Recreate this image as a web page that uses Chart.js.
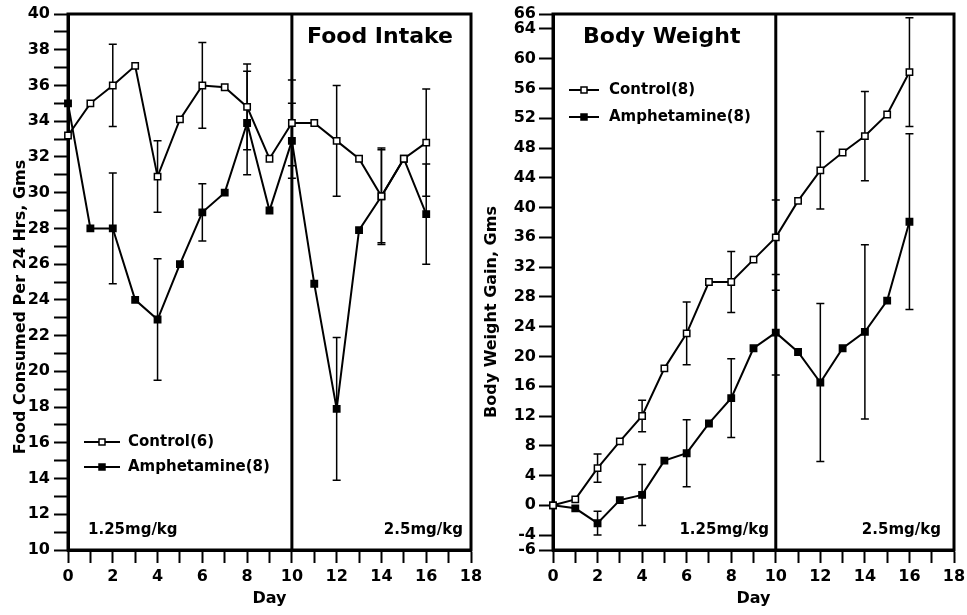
<!DOCTYPE html>
<html lang="en">
<head>
<meta charset="UTF-8">
<title>Food Intake and Body Weight</title>
<script src="https://cdn.jsdelivr.net/npm/chart.js"></script>
<style>
  body { margin: 0; background: #fff; }
  #wrap { position: relative; width: 967px; height: 615px; }
  #foodChart { position: absolute; left: 0; top: 0; }
  #weightChart { position: absolute; left: 480px; top: 0; }
</style>
</head>
<body>
<div id="wrap">
  <canvas id="foodChart" width="492" height="615"></canvas>
  <canvas id="weightChart" width="487" height="615"></canvas>
</div>
<script>
// days of the experiment, dose doubled from day 10
const days = [0, 1, 2, 3, 4, 5, 6, 7, 8, 9, 10, 11, 12, 13, 14, 15, 16];
const doseChangeDay = 10;

// food intake, g per 24 h (errors only on even days)
const foodControl    = [33.2, 35.0, 36.0, 37.1, 30.9, 34.1, 36.0, 35.9, 34.8, 31.9, 33.9, 33.9, 32.9, 31.9, 29.8, 31.9, 32.8];
const foodControlErr = [null, null, 2.3, null, 2.0, null, 2.4, null, 2.4, null, 2.4, null, 3.1, null, 2.7, null, 3.0];
const foodAmph       = [35.0, 28.0, 28.0, 24.0, 22.9, 26.0, 28.9, 30.0, 33.9, 29.0, 32.9, 24.9, 17.9, 27.9, 29.8, 31.9, 28.8];
const foodAmphErr    = [null, null, 3.1, null, 3.4, null, 1.6, null, 2.9, null, 2.1, null, 4.0, null, 2.6, null, 2.8];

// body weight gain, g
const bwControl    = [0, 0.8, 5.0, 8.6, 12.0, 18.4, 23.1, 30.0, 30.0, 33.0, 36.0, 40.9, 45.0, 47.4, 49.6, 52.5, 58.2];
const bwControlErr = [null, null, 1.9, null, 2.1, null, 4.2, null, 4.1, null, 5.0, null, 5.2, null, 6.0, null, 7.3];
const bwAmph       = [0, -0.4, -2.4, 0.7, 1.4, 6.0, 7.0, 11.0, 14.4, 21.1, 23.2, 20.6, 16.5, 21.1, 23.3, 27.5, 38.1];
const bwAmphErr    = [null, null, 1.6, null, 4.1, null, 4.5, null, 5.3, null, 5.7, null, 10.6, null, 11.7, null, 11.8];

const bwTicks = [-6, -4, 0, 4, 8, 12, 16, 20, 24, 28, 32, 36, 40, 44, 48, 52, 56, 60, 64, 66];

Chart.defaults.font.family = "'DejaVu Sans', sans-serif";
Chart.defaults.font.weight = 'bold';
Chart.defaults.color = '#000';

const pts = (xs, ys) => xs.map((x, i) => ({ x: x, y: ys[i] }));
const boldFont = size => 'bold ' + size + "px 'DejaVu Sans', sans-serif";

// frame, error bars, divider line, legend and labels
const panelExtras = {
  id: 'panelExtras',
  beforeDatasetsDraw(chart, args, opts) {
    const { ctx, chartArea: a, scales: { x, y } } = chart;
    ctx.save();
    ctx.strokeStyle = '#000';
    ctx.lineWidth = 1.5;
    chart.data.datasets.forEach(ds => {
      ds.errors.forEach((e, i) => {
        if (e == null) return;
        const px = x.getPixelForValue(ds.data[i].x);
        const hi = y.getPixelForValue(ds.data[i].y + e);
        const lo = y.getPixelForValue(ds.data[i].y - e);
        ctx.beginPath();
        ctx.moveTo(px, hi); ctx.lineTo(px, lo);
        ctx.moveTo(px - 4, hi); ctx.lineTo(px + 4, hi);
        ctx.moveTo(px - 4, lo); ctx.lineTo(px + 4, lo);
        ctx.stroke();
      });
    });
    ctx.lineWidth = 3;
    ctx.strokeRect(a.left, a.top, a.width, a.height);
    const dx = x.getPixelForValue(doseChangeDay);
    ctx.beginPath();
    ctx.moveTo(dx, a.top); ctx.lineTo(dx, a.bottom);
    ctx.stroke();
    ctx.restore();
  },
  afterDraw(chart, args, opts) {
    const { ctx, chartArea: a } = chart;
    ctx.save();
    ctx.fillStyle = '#000';
    ctx.textBaseline = 'middle';

    // y axis title
    ctx.save();
    ctx.translate(opts.yTitle.x, opts.yTitle.y);
    ctx.rotate(-Math.PI / 2);
    ctx.textAlign = 'center';
    ctx.font = boldFont(16);
    ctx.fillText(opts.yTitle.text, 0, 0);
    ctx.restore();

    // legend
    const lg = opts.legend;
    chart.data.datasets.forEach((ds, i) => {
      const ly = a.top + lg.y + i * lg.gap;
      ctx.strokeStyle = '#000';
      ctx.lineWidth = 2;
      ctx.beginPath();
      ctx.moveTo(a.left + lg.x1, ly); ctx.lineTo(a.left + lg.x2, ly);
      ctx.stroke();
      const mx = a.left + (lg.x1 + lg.x2) / 2;
      ctx.fillStyle = ds.pointBackgroundColor;
      ctx.fillRect(mx - 3, ly - 3, 6, 6);
      ctx.lineWidth = 1.5;
      ctx.strokeRect(mx - 3, ly - 3, 6, 6);
      ctx.fillStyle = '#000';
      ctx.textAlign = 'left';
      ctx.font = boldFont(15);
      ctx.fillText(ds.label, a.left + lg.textX, ly);
    });

    // panel title and dose notes
    opts.notes.forEach(n => {
      ctx.font = boldFont(n.size);
      ctx.textAlign = n.align;
      ctx.fillText(n.text, a.left + n.dx, a.top + n.dy);
    });
    ctx.restore();
  }
};

function xAxis() {
  return {
    type: 'linear', min: 0, max: 18,
    afterFit: s => { s.height = 65; s.paddingLeft = 0; s.paddingRight = 0; },
    ticks: { stepSize: 1, autoSkip: false, maxRotation: 0, padding: 4,
             font: { size: 16, weight: 'bold' }, callback: v => (v % 2 === 0 ? v : '') },
    grid: { drawOnChartArea: false, tickLength: 13, tickWidth: 2, tickColor: '#000' },
    border: { display: true, color: '#000', width: 3 },
    title: { display: true, text: 'Day', font: { size: 16, weight: 'bold' }, padding: { top: 0, bottom: 7 } }
  };
}

function seriesStyle(fill) {
  return {
    borderColor: '#000', borderWidth: 2, tension: 0, clip: false,
    pointStyle: 'rect', pointRadius: 4.5, pointBorderWidth: 1.5,
    pointBorderColor: '#000', pointBackgroundColor: fill, backgroundColor: fill
  };
}

new Chart(document.getElementById('foodChart'), {
  type: 'line',
  data: {
    datasets: [
      Object.assign({ label: 'Control(6)', data: pts(days, foodControl), errors: foodControlErr }, seriesStyle('#fff')),
      Object.assign({ label: 'Amphetamine(8)', data: pts(days, foodAmph), errors: foodAmphErr }, seriesStyle('#000'))
    ]
  },
  options: {
    responsive: false, animation: false, events: [],
    layout: { padding: { top: 14, right: 21, left: 0, bottom: 0 } },
    scales: {
      x: xAxis(),
      y: {
        min: 10, max: 40,
        afterFit: s => { s.width = 68; },
        ticks: { stepSize: 1, autoSkip: false, padding: 4,
                 font: { size: 16, weight: 'bold' }, callback: v => (v % 2 === 0 ? v : '') },
        grid: { drawOnChartArea: false, tickLength: 14, tickWidth: 2, tickColor: '#000' },
        border: { display: true, color: '#000', width: 3 }
      }
    },
    plugins: {
      legend: { display: false },
      tooltip: { enabled: false },
      panelExtras: {
        yTitle: { text: 'Food Consumed Per 24 Hrs, Gms', x: 21, y: 307 },
        legend: { x1: 16, x2: 52, textX: 60, y: 428, gap: 25 },
        notes: [
          { text: 'Food Intake', size: 22, align: 'right', dx: 385, dy: 23 },
          { text: '1.25mg/kg', size: 15, align: 'left', dx: 20, dy: 516 },
          { text: '2.5mg/kg', size: 15, align: 'right', dx: 395, dy: 516 }
        ]
      }
    }
  },
  plugins: [panelExtras]
});

new Chart(document.getElementById('weightChart'), {
  type: 'line',
  data: {
    datasets: [
      Object.assign({ label: 'Control(8)', data: pts(days, bwControl), errors: bwControlErr }, seriesStyle('#fff')),
      Object.assign({ label: 'Amphetamine(8)', data: pts(days, bwAmph), errors: bwAmphErr }, seriesStyle('#000'))
    ]
  },
  options: {
    responsive: false, animation: false, events: [],
    layout: { padding: { top: 14, right: 13, left: 0, bottom: 0 } },
    scales: {
      x: xAxis(),
      y: {
        min: -6, max: 66,
        afterFit: s => { s.width = 73; },
        afterBuildTicks: s => { s.ticks = bwTicks.map(v => ({ value: v })); },
        ticks: { autoSkip: false, padding: 3, font: { size: 16, weight: 'bold' } },
        grid: { drawOnChartArea: false, tickLength: 14, tickWidth: 2, tickColor: '#000' },
        border: { display: true, color: '#000', width: 3 }
      }
    },
    plugins: {
      legend: { display: false },
      tooltip: { enabled: false },
      panelExtras: {
        yTitle: { text: 'Body Weight Gain, Gms', x: 12, y: 312 },
        legend: { x1: 16, x2: 46, textX: 56, y: 76, gap: 27 },
        notes: [
          { text: 'Body Weight', size: 22, align: 'left', dx: 30, dy: 23 },
          { text: '1.25mg/kg', size: 15, align: 'right', dx: 216, dy: 516 },
          { text: '2.5mg/kg', size: 15, align: 'right', dx: 388, dy: 516 }
        ]
      }
    }
  },
  plugins: [panelExtras]
});
</script>
</body>
</html>
